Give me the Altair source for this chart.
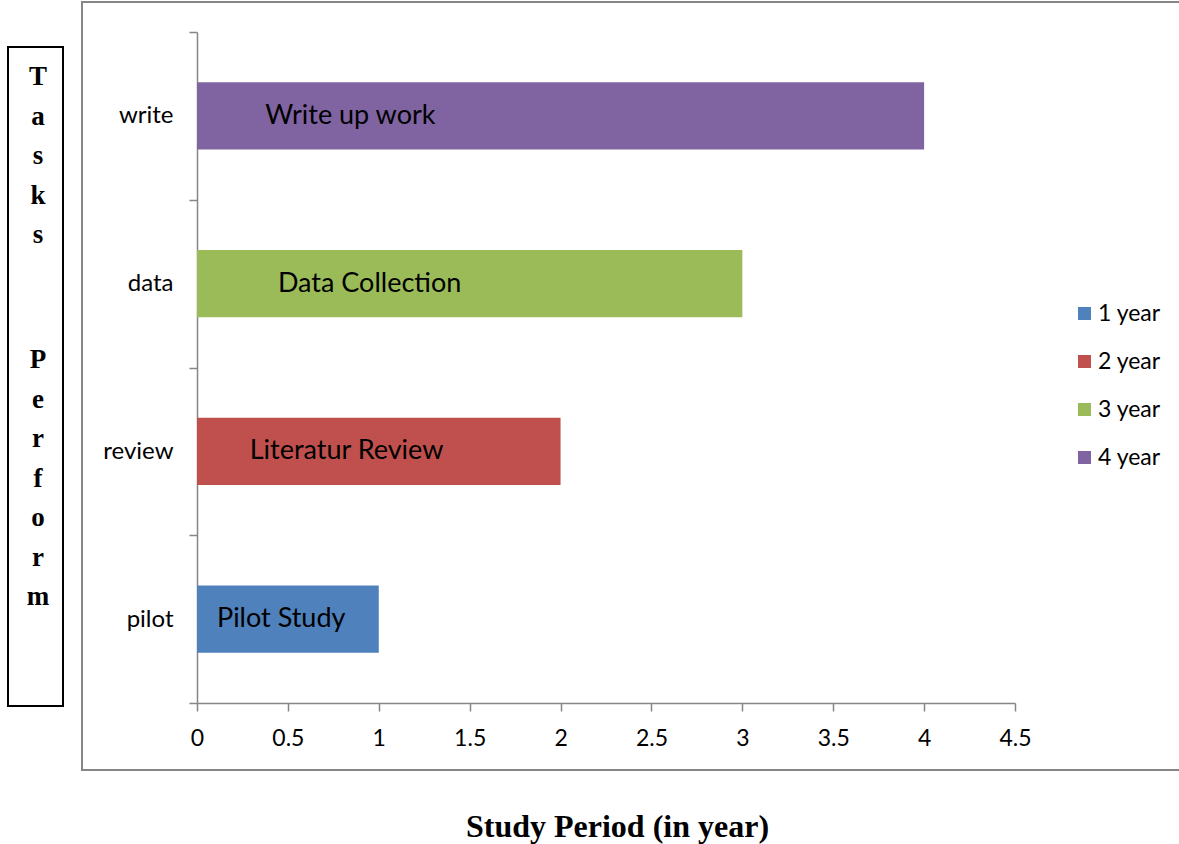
import altair as alt
import pandas as pd

# Tasks, their duration in years and the period they belong to
tasks = ["pilot", "review", "data", "write"]
durations = [1, 2, 3, 4]
periods = ["1 year", "2 year", "3 year", "4 year"]
bar_labels = ["Pilot Study", "Literatur Review", "Data Collection", "Write up work"]
label_start = [0.11, 0.29, 0.445, 0.375]  # where each in-bar label begins (years)

task_order = ["write", "data", "review", "pilot"]
x_ticks = [0, 0.5, 1, 1.5, 2, 2.5, 3, 3.5, 4, 4.5]
period_colors = ["#4F81BD", "#C0504D", "#9BBB59", "#8064A2"]
side_words = ["Tasks", "Perform"]

df = pd.DataFrame({
    "task": tasks,
    "years": durations,
    "period": periods,
    "label": bar_labels,
    "label_x": label_start,
})

SANS = "Lato"
SERIF = "Liberation Serif"
AXIS_GREY = "#868686"

x_enc = alt.X(
    "years:Q",
    scale=alt.Scale(domain=[0, 4.5], nice=False, zero=True),
    axis=alt.Axis(
        values=x_ticks, format="~g", grid=False, labelFlush=False,
        domainColor=AXIS_GREY, domainWidth=1.5,
        tickColor=AXIS_GREY, tickWidth=1.5, tickSize=8,
        labelFontSize=23, labelFont=SANS, labelColor="black", labelPadding=16,
        title="Study Period (in year)", titleFont=SERIF, titleFontSize=32,
        titleFontWeight="bold", titleColor="black",
        titleX=420, titleY=123, titleAnchor="middle", titleBaseline="middle",
        titleAlign="center",
    ),
)

y_enc = alt.Y(
    "task:N",
    sort=task_order,
    scale=alt.Scale(domain=task_order, paddingInner=0, paddingOuter=0),
    title=None,
    axis=alt.Axis(
        tickBand="extent", grid=False,
        domainColor=AXIS_GREY, domainWidth=1.5,
        tickColor=AXIS_GREY, tickWidth=1.5, tickSize=8,
        labelFontSize=24, labelFont=SANS, labelColor="black", labelPadding=16,
    ),
)

bars = alt.Chart(df).mark_bar(height={"band": 0.4}).encode(
    x=x_enc,
    y=y_enc,
    color=alt.Color(
        "period:N",
        scale=alt.Scale(domain=periods, range=period_colors),
        legend=alt.Legend(
            title=None, orient="none", legendX=876, legendY=270,
            symbolType="square", symbolSize=169, symbolStrokeWidth=0,
            labelFont=SANS, labelFontSize=23, labelColor="black",
            rowPadding=24, labelOffset=2,
        ),
    ),
)

labels = alt.Chart(df).mark_text(
    align="left", baseline="middle", font=SANS, fontSize=27, color="black"
).encode(
    x="label_x:Q",
    y=alt.Y("task:N", sort=task_order),
    text="label:N",
)

frame_df = pd.DataFrame({"k": [0]})

# grey border around the whole chart area
outer_frame = alt.Chart(frame_df).mark_rect(
    fill=None, fillOpacity=0, stroke=AXIS_GREY, strokeWidth=2
).encode(
    x=alt.value(-115), x2=alt.value(1000), y=alt.value(-30), y2=alt.value(738)
)

# boxed vertical caption on the left
side_box = alt.Chart(frame_df).mark_rect(
    fill="white", stroke="black", strokeWidth=2
).encode(
    x=alt.value(-189), x2=alt.value(-134), y=alt.value(15), y2=alt.value(674)
)

def stacked_word(word, top):
    # one letter per line, first line centred at `top`
    return alt.Chart(pd.DataFrame({"t": ["\n".join(word)]})).mark_text(
        align="center", baseline="middle", font=SERIF, fontSize=27,
        fontWeight="bold", color="black", lineBreak="\n", lineHeight=39.5,
    ).encode(x=alt.value(-159), y=alt.value(top), text="t:N")

side_caption_1 = stacked_word(side_words[0], 45)
side_caption_2 = stacked_word(side_words[1], 328)

chart = alt.layer(
    outer_frame, side_box, side_caption_1, side_caption_2, bars, labels
).properties(
    width=818,
    height=671,
    padding={"left": 197, "top": 32, "right": 164, "bottom": 141},
    autosize=alt.AutoSizeParams(type="none"),
    background="white",
).configure_view(stroke=None)

chart.save("out.html", embed_options={"renderer": "svg", "actions": False})
